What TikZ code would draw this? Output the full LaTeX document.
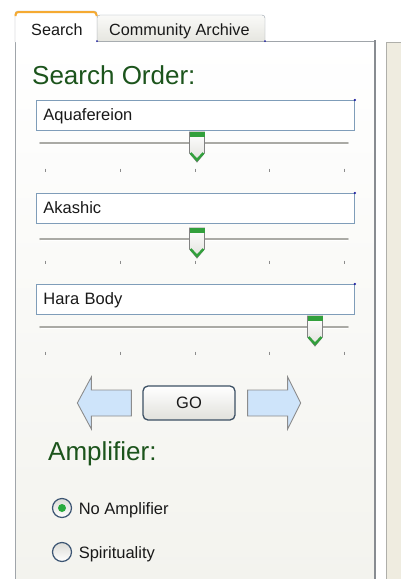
\documentclass[tikz,border=0pt]{standalone}
\usepackage{fontspec}
\setmainfont{Liberation Sans}
\usetikzlibrary{positioning,calc}

\definecolor{headgreen}{RGB}{28,84,28}
\definecolor{txtgray}{RGB}{25,25,25}
\definecolor{fieldblue}{RGB}{127,157,185}
\definecolor{dotblue}{RGB}{30,30,160}
\definecolor{trackgray}{RGB}{170,170,165}
\definecolor{tickgray}{RGB}{140,140,140}
\definecolor{thumbgray}{RGB}{130,130,130}
\definecolor{thumbfill}{RGB}{225,225,220}
\definecolor{gripgreen}{RGB}{50,160,60}
\definecolor{btnborder}{RGB}{60,80,100}
\definecolor{btnfill}{RGB}{225,225,220}
\definecolor{arrowgray}{RGB}{140,140,140}
\definecolor{arrowblue}{RGB}{206,228,250}
\definecolor{radioborder}{RGB}{60,85,115}
\definecolor{radiofill}{RGB}{220,220,215}
\definecolor{dotgreen}{RGB}{40,170,60}
\definecolor{panelgray}{RGB}{160,165,170}
\definecolor{panelfill}{RGB}{243,243,238}
\definecolor{sidebeige}{RGB}{239,236,224}
\definecolor{sidegray}{RGB}{175,175,170}
\definecolor{tabgray}{RGB}{150,160,170}
\definecolor{tabtop}{RGB}{250,250,248}
\definecolor{tabbot}{RGB}{230,230,224}
\definecolor{taborange}{RGB}{245,170,50}

\begin{document}
\begin{tikzpicture}[
    x=1pt, y=-1pt,
    every node/.style={font=\fontsize{16.5}{19}\selectfont, text=txtgray},
    heading/.style={font=\fontsize{26}{30}\selectfont, text=headgreen, anchor=base west, inner sep=0pt},
    tablabel/.style={font=\fontsize{16.2}{18}\selectfont, anchor=base west, inner sep=0pt},
    field/.style={rectangle, draw=fieldblue, line width=0.9pt, fill=white, anchor=north west, minimum width=318pt, minimum height=30pt, text width=304pt, align=left, inner xsep=7pt, text height=12pt, text depth=2pt},
    track/.style={draw=trackgray, line width=1.6pt, line cap=round},
    tick/.style={draw=tickgray, line width=0.8pt},
    thumb/.style={draw=thumbgray, line width=0.8pt, top color=white, bottom color=thumbfill},
    grip/.style={draw=gripgreen, line width=2.4pt, line join=miter},
    gobtn/.style={rectangle, rounded corners=5pt, draw=btnborder, line width=1.3pt, top color=white, bottom color=btnfill, minimum width=92pt, minimum height=34pt},
    blockarrow/.style={draw=arrowgray, line width=0.9pt, fill=arrowblue, line join=miter},
    radio/.style={circle, draw=radioborder, line width=1.2pt, top color=radiofill, bottom color=white, minimum size=19pt, inner sep=0pt},
    option/.style={inner sep=0pt, text height=12pt, text depth=0pt}
]

\fill[white] (0,0) rectangle (401,579);
\useasboundingbox (0,0) rectangle (401,579);

% Side panel on the right
\fill[sidebeige] (386,42) rectangle (401,579);
\draw[sidegray] (386.5,579) -- (386.5,42.5) -- (401,42.5);

% Main panel
\shade[top color=white, bottom color=panelfill] (15,41) rectangle (375,579);
\draw[panelgray] (15,579) -- (15,41);
\draw[panelgray] (97,41) -- (375,41);
\draw[panelgray!85!black, line width=2.5pt] (375,40) -- (375,579);

% Tabs
\draw[tabgray, top color=tabtop, bottom color=tabbot, rounded corners=3pt] (97,41) -- (97,15) -- (265,15) -- (265,41);
\draw[panelgray, fill=white, rounded corners=3pt] (15,42) -- (15,11) -- (97,11) -- (97,42);
\draw[taborange, line width=2pt, rounded corners=3pt] (15.5,16) -- (15.5,12) -- (96.5,12) -- (96.5,16);
\fill[dotblue] (97,41) circle (1pt) (265,41) circle (1pt);
\node[tablabel] (tabsearch) at (31,35) {Search};
\node[tablabel] (tabarchive) at (109,35) {Community Archive};

% Search order fields and sliders
\node[heading] (orderhead) at (32,84) {Search Order:};
\foreach \lbl/\boxy/\ty/\tk/\tx [count=\i] in {Aquafereion/100/143/170/197, Akashic/193/239/262/197, Hara Body/284/327/353/315} {
  \node[field] (field\i) at (36,\boxy) {\lbl};
  \fill[dotblue] (field\i.north east) circle (1.2pt);
  \draw[track] (40,\ty) -- (348,\ty);
  \draw[white, line width=0.8pt] (41,\ty+1.6) -- (348,\ty+1.6);
  \foreach \x in {45,120,195,269,344}
    \draw[tick] (\x,\tk-1.5) -- (\x,\tk+1.5);
  \draw[thumb] (\tx-7.5,\ty-11) -- (\tx+7.5,\ty-11) -- (\tx+7.5,\ty+10) -- (\tx,\ty+19) -- (\tx-7.5,\ty+10) -- cycle;
  \fill[gripgreen] (\tx-7.5,\ty-11) rectangle (\tx+7.5,\ty-6);
  \draw[grip] (\tx-6.5,\ty+10) -- (\tx,\ty+17) -- (\tx+6.5,\ty+10);
}

% GO button between the two arrows
\node[gobtn] (go) at (189,403) {GO};
\draw[blockarrow] ($(go.west)+(-11,-13)$) -- ++(-40,0) -- ++(0,-13) -- ++(-14,26) -- ++(14,26) -- ++(0,-13) -- ++(40,0) -- cycle;
\draw[blockarrow] ($(go.east)+(12,-13)$) -- ++(40,0) -- ++(0,-13) -- ++(13,26) -- ++(-13,26) -- ++(0,-13) -- ++(-40,0) -- cycle;

% Amplifier choice
\node[heading] (amphead) at (48,460) {Amplifier:};
\node[radio] (noamp) at (62,508) {};
\fill[dotgreen] (noamp) circle (4pt);
\node[option, right=6.5pt of noamp] (noamplbl) {No Amplifier};
\node[radio] (spirit) at (62,552) {};
\node[option, right=6.5pt of spirit] (spiritlbl) {Spirituality};

\end{tikzpicture}
\end{document}
